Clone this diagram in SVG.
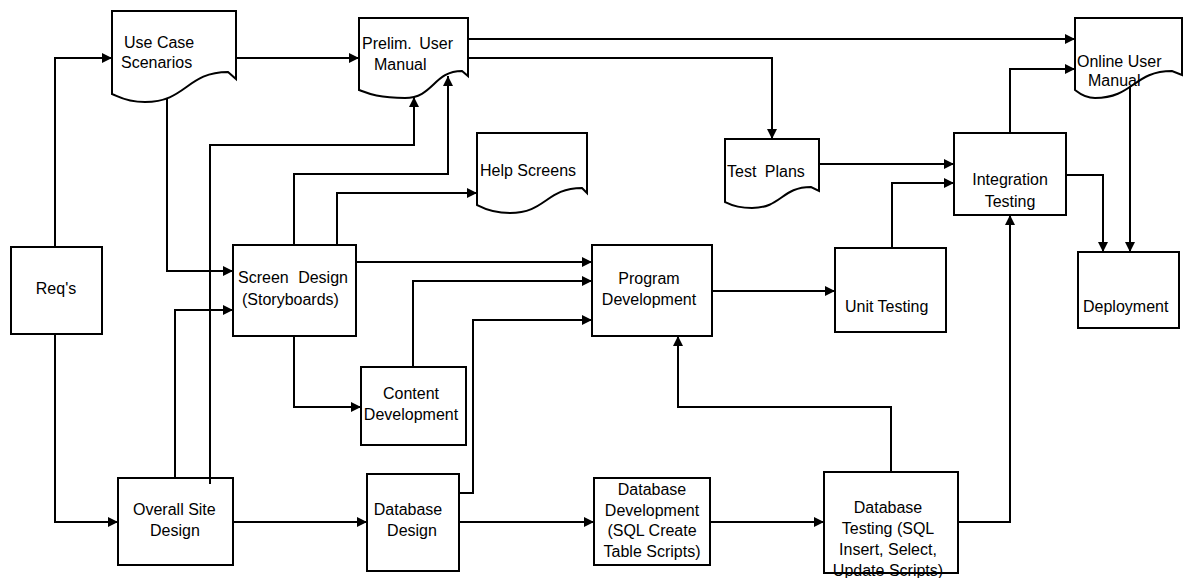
<svg xmlns="http://www.w3.org/2000/svg" width="1184" height="578" viewBox="0 0 1184 578">
  <defs>
    <marker id="arrow" markerUnits="userSpaceOnUse" markerWidth="11" markerHeight="11" refX="10" refY="5" orient="auto">
      <path d="M0,0 L10,5 L0,10 Z" fill="#000"/>
    </marker>
  </defs>
  <style>
    .box { fill: #fff; stroke: #000; stroke-width: 2; }
    .lbl { font-family: "Liberation Sans", Arial, sans-serif; font-size: 16px; fill: #000; }
    .mid { text-anchor: middle; }
    .wide { word-spacing: 3px; }
    .conn path { fill: none; stroke: #000; stroke-width: 2; marker-end: url(#arrow); }
  </style>
  <rect width="1184" height="578" fill="#fff"/>

  <!-- Documents (wavy-bottom shapes) -->
  <g id="use-case-scenarios">
    <path class="box" d="M112,11 H236 V79 L228,72 C186.5,72 186.5,102 145,102 C125.2,102 118,96 112,94 Z"/>
    <text class="lbl" x="124" y="48">Use Case</text>
    <text class="lbl" x="121" y="68">Scenarios</text>
  </g>
  <g id="prelim-user-manual">
    <path class="box" d="M359,18 H468 V76 L462,71 C433.5,71 433.5,98 405,98 C377.4,98 367,93 359,90 Z"/>
    <text class="lbl wide" x="362" y="49">Prelim. User</text>
    <text class="lbl" x="374" y="70">Manual</text>
  </g>
  <g id="help-screens">
    <path class="box" d="M477,133 H587 V193 L582,188 C546,188 546,213 510,213 C490.2,213 481,207 477,205 Z"/>
    <text class="lbl" x="480" y="176">Help Screens</text>
  </g>
  <g id="test-plans">
    <path class="box" d="M725,139 H819 V191 L811,187 C781.5,187 781.5,208 752,208 C735.8,208 729,204 725,202 Z"/>
    <text class="lbl" x="727" y="177" style="word-spacing:4px">Test Plans</text>
  </g>
  <g id="online-user-manual">
    <path class="box" d="M1075,18 H1182 V75 L1172,71 C1133.5,71 1133.5,98 1095,98 C1083,98 1078,92 1075,90 Z"/>
    <text class="lbl" x="1077" y="67">Online User</text>
    <text class="lbl" x="1088" y="86">Manual</text>
  </g>

  <!-- Process boxes -->
  <g id="reqs">
    <rect class="box" x="11" y="247" width="91" height="87"/>
    <text class="lbl mid" x="56" y="294">Req's</text>
  </g>
  <g id="screen-design">
    <rect class="box" x="233" y="245" width="123" height="91"/>
    <text class="lbl" x="238" y="283" style="word-spacing:5px">Screen Design</text>
    <text class="lbl" x="242" y="305">(Storyboards)</text>
  </g>
  <g id="content-development">
    <rect class="box" x="361" y="367" width="105" height="78"/>
    <text class="lbl mid" x="411" y="399">Content</text>
    <text class="lbl mid" x="411" y="420">Development</text>
  </g>
  <g id="program-development">
    <rect class="box" x="592" y="245" width="120" height="91"/>
    <text class="lbl mid" x="649" y="284">Program</text>
    <text class="lbl mid" x="649" y="305">Development</text>
  </g>
  <g id="unit-testing">
    <rect class="box" x="835" y="248" width="111" height="84"/>
    <text class="lbl" x="845" y="312">Unit Testing</text>
  </g>
  <g id="integration-testing">
    <rect class="box" x="954" y="133" width="112" height="82"/>
    <text class="lbl mid" x="1010" y="185">Integration</text>
    <text class="lbl mid" x="1010" y="207">Testing</text>
  </g>
  <g id="deployment">
    <rect class="box" x="1078" y="252" width="101" height="76"/>
    <text class="lbl" x="1083" y="312">Deployment</text>
  </g>
  <g id="overall-site-design">
    <rect class="box" x="118" y="478" width="115" height="87"/>
    <text class="lbl" x="133" y="515">Overall Site</text>
    <text class="lbl" x="150" y="536">Design</text>
  </g>
  <g id="database-design">
    <rect class="box" x="367" y="474" width="92" height="97"/>
    <text class="lbl mid" x="408" y="515">Database</text>
    <text class="lbl mid" x="412" y="536">Design</text>
  </g>
  <g id="database-development">
    <rect class="box" x="594" y="478" width="116" height="87"/>
    <text class="lbl mid" x="652" y="495">Database</text>
    <text class="lbl mid" x="652" y="516">Development</text>
    <text class="lbl mid" x="652" y="536">(SQL Create</text>
    <text class="lbl mid" x="652" y="557">Table Scripts)</text>
  </g>
  <g id="database-testing">
    <rect class="box" x="824" y="472" width="134" height="101"/>
    <text class="lbl mid" x="888" y="513">Database</text>
    <text class="lbl mid" x="888" y="534">Testing (SQL</text>
    <text class="lbl mid" x="888" y="555">Insert, Select,</text>
    <text class="lbl mid" x="888" y="576">Update Scripts)</text>
  </g>

  <!-- Connectors -->
  <g id="connectors" class="conn">
    <path d="M55,247 V58 H112"/>
    <path d="M55,334 V522 H118"/>
    <path d="M236,58 H359"/>
    <path d="M167,99 V271 H233"/>
    <path d="M468,39 H1075"/>
    <path d="M468,58 H772 V139"/>
    <path d="M210,484 V145 H414 V97"/>
    <path d="M175,478 V310 H233"/>
    <path d="M294,245 V174 H448 V76"/>
    <path d="M337,245 V193 H477"/>
    <path d="M356,262 H592"/>
    <path d="M294,336 V407 H361"/>
    <path d="M413,367 V281 H592"/>
    <path d="M459,493 H473 V320 H592"/>
    <path d="M233,522 H367"/>
    <path d="M459,522 H594"/>
    <path d="M710,522 H824"/>
    <path d="M891,472 V407 H678 V336"/>
    <path d="M958,522 H1010 V215"/>
    <path d="M712,291 H835"/>
    <path d="M892,248 V183 H954"/>
    <path d="M819,164 H954"/>
    <path d="M1010,133 V69 H1075"/>
    <path d="M1066,175 H1103 V252"/>
    <path d="M1130,86 V252"/>
  </g>
</svg>
